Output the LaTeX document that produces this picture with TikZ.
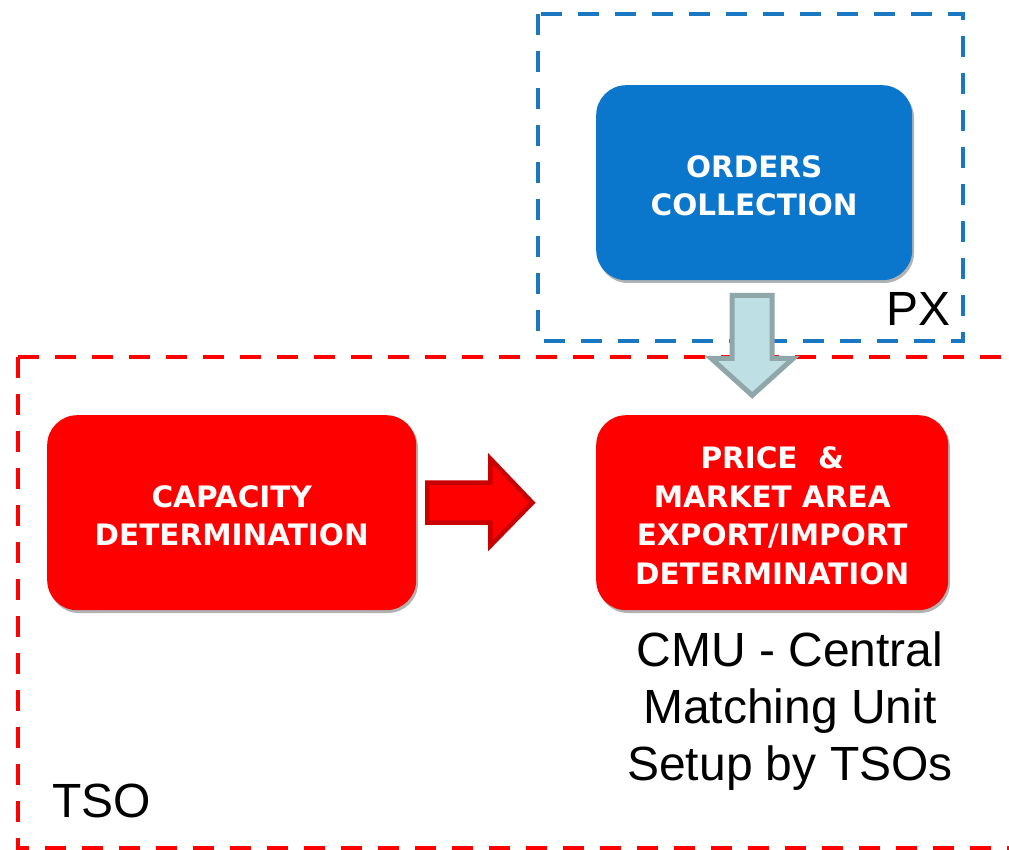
\documentclass[tikz,border=0pt]{standalone}
\usepackage{fontspec}
\setmainfont{Liberation Sans}
\newfontfamily\boxfont{DejaVu Sans}
\usetikzlibrary{calc}
\definecolor{pxblue}{HTML}{0A77CC}
\definecolor{pxdash}{HTML}{1A78C2}
\definecolor{tsored}{HTML}{FF0000}
\definecolor{darkred}{HTML}{C80000}
\definecolor{arrowfill}{HTML}{BEE0E4}
\definecolor{arrowline}{HTML}{8FA7A9}
\begin{document}
\begin{tikzpicture}[x=1pt,y=-1pt,
  step box/.style={rounded corners=30pt, minimum height=195pt, inner sep=0pt,
    text=white, align=center, font=\boxfont\bfseries\fontsize{29.5}{38.5}\selectfont},
  zone/.style={line width=4.5pt, dash pattern=on 21pt off 16pt},
  label text/.style={font=\fontsize{48}{57}\selectfont, align=center, inner sep=0pt}]
\useasboundingbox (0,0) rectangle (1009,850);

% zones
\draw[zone, pxdash] (538,14) rectangle (963,341);
\draw[zone, tsored] (18,357) -- (1030,357);
\draw[zone, tsored] (18,357) -- (18,848) -- (1030,848);

% soft shadows under the boxes
\fill[black!30, rounded corners=30pt] (598,88) rectangle (914,283);
\fill[black!30, rounded corners=30pt] (49,418) rectangle (418,613);
\fill[black!30, rounded corners=30pt] (598,418) rectangle (950,613);

% boxes
\node[step box, fill=pxblue, minimum width=316pt, anchor=north west] (orders) at (596,85) {};
\node[step box, fill=tsored, minimum width=369pt, anchor=north west] (capacity) at (47,415) {};
\node[step box, fill=tsored, minimum width=352pt, anchor=north west] (price) at (596,415) {};

% box captions
\node[step box, minimum height=0pt] at ($(orders.center)+(0,3)$) {ORDERS\\COLLECTION};
\node[step box, minimum height=0pt] at ($(capacity.center)+(0,3)$) {CAPACITY\\DETERMINATION};
\node[step box, minimum height=0pt] at ($(price.center)+(0,3)$) {PRICE~~\&\\MARKET AREA\\EXPORT/IMPORT\\DETERMINATION};

% downward block arrow from orders to price
\coordinate (dtop) at ($(orders.south)+(-2,15)$);
\draw[line width=5pt, draw=arrowline, fill=arrowfill, line join=miter]
  ($(dtop)+(-20,0)$) -- ($(dtop)+(20,0)$) -- ($(dtop)+(20,63)$) -- ($(dtop)+(41,63)$)
  -- ($(dtop)+(0,100)$) -- ($(dtop)+(-41,63)$) -- ($(dtop)+(-20,63)$) -- cycle;

% right block arrow from capacity to price
\coordinate (rleft) at ($(capacity.east)+(11,-10)$);
\draw[line width=4.5pt, draw=darkred, fill=tsored, line join=miter]
  ($(rleft)+(0,-20)$) -- ($(rleft)+(63,-20)$) -- ($(rleft)+(63,-44)$) -- ($(rleft)+(105,0)$)
  -- ($(rleft)+(63,43)$) -- ($(rleft)+(63,20)$) -- ($(rleft)+(0,20)$) -- cycle;

% zone labels
\node[label text, anchor=base west] (px) at (886,325) {PX};
\node[label text, anchor=base west] (tso) at (52,817) {TSO};
\node[label text, anchor=north] (cmu) at (790,632) {CMU - Central\\Matching Unit\\Setup by TSOs};
\end{tikzpicture}
\end{document}
